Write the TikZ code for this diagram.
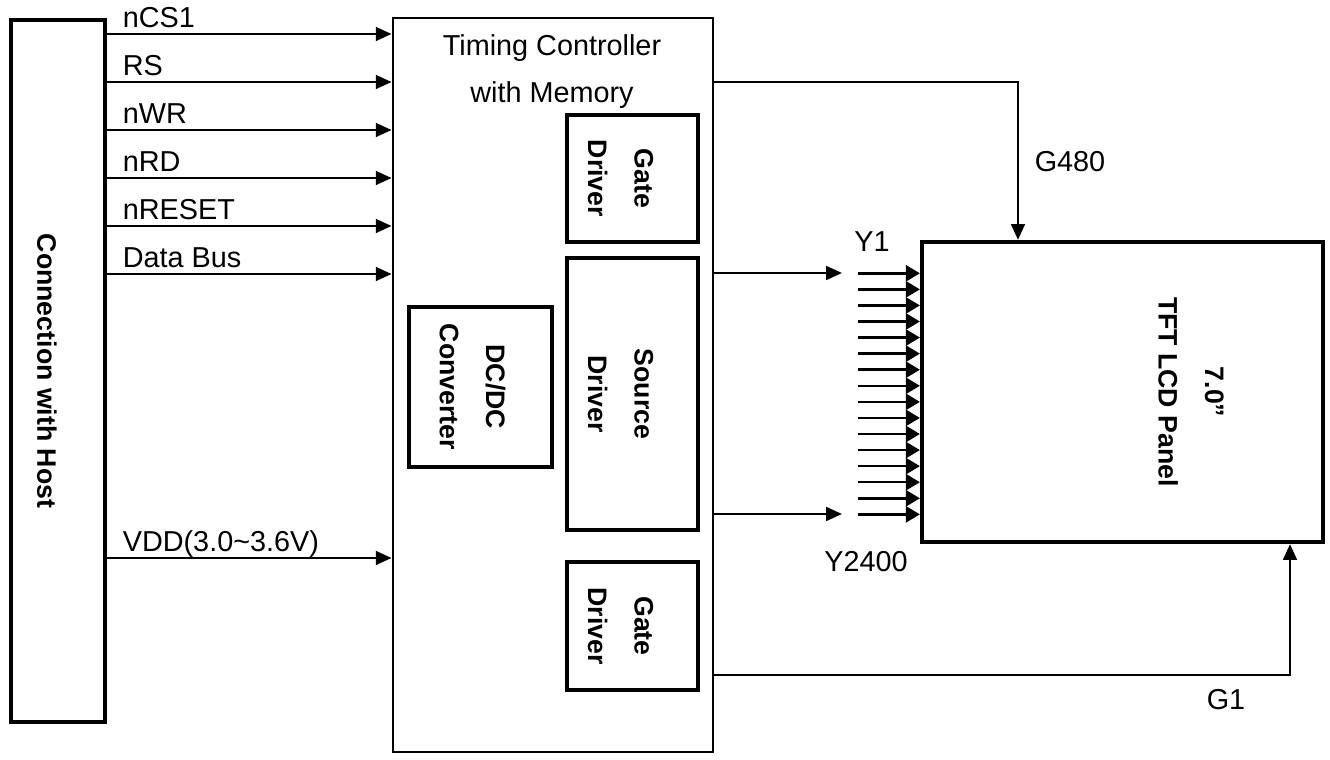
\documentclass[tikz,border=0pt]{standalone}
\definecolor{DInk}{HTML}{000000}
\usepackage{fontspec}
\setmainfont{Liberation Sans}
\usepackage{tikz}
\usetikzlibrary{arrows.meta,positioning,calc}

\begin{document}
\begin{tikzpicture}[
    blk/.style={draw=DInk,line width=1.2pt,minimum width=#1},
    tblk/.style={draw=DInk,line width=0.8pt},
    sig/.style={DInk,line width=0.7pt,-{Triangle[length=4.5pt,width=3.9pt]}},
    fan/.style={DInk,line width=0.7pt,-{Triangle[length=4pt,width=4.6pt]}},
    lbl/.style={font=\fontsize{8.2}{13.3}\selectfont,inner sep=0pt},
    blbl/.style={font=\fontsize{7.6}{13.2}\selectfont\bfseries,inner sep=0pt,
                 rotate=-90,align=center}]
    \useasboundingbox (0,0) rectangle (13.3,-7.6);
    % host side
    \node[blk=0.94cm,minimum height=7.02cm] (host) at (0.58,-3.71) {};
    \node[blbl] (hostlbl) at (0.47,-3.71) {Connection with Host};
    % timing controller and its blocks
    \node[tblk,minimum width=3.20cm,minimum height=7.34cm] (tcon) at (5.53,-3.85) {};
    \node[lbl,align=center] (tconlbl) at (5.52,-0.715) {Timing Controller\\with Memory};
    \node[blk=1.31cm,minimum height=1.27cm] (gtop) at (6.325,-1.785) {};
    \node[blbl] at ([xshift=-0.12cm]gtop.center) {Gate\\Driver};
    \node[blk=1.31cm,minimum height=2.72cm] (src) at (6.325,-3.94) {};
    \node[blbl] at ([xshift=-0.12cm]src.center) {Source\\Driver};
    \node[blk=1.43cm,minimum height=1.60cm] (dcdc) at (4.805,-3.87) {};
    \node[blbl] at ([xshift=-0.08cm]dcdc.center) {DC/DC\\Converter};
    \node[blk=1.31cm,minimum height=1.28cm] (gbot) at (6.325,-6.26) {};
    \node[blbl] at ([xshift=-0.12cm]gbot.center) {Gate\\Driver};
    % panel
    \node[blk=4.01cm,minimum height=3.00cm] (panel) at (11.225,-3.92) {};
    \node[blbl] (panellbl) at (11.91,-3.92) {7.0”\\TFT LCD Panel};
    % host signals
    \foreach \y/\txt in {0.34/nCS1,0.82/RS,1.30/nWR,1.78/nRD,2.26/nRESET,2.74/Data Bus,5.58/VDD(3.0\textasciitilde3.6V)}{
      \coordinate (s) at (0,-\y);
      \draw[sig] (host.east |- s) -- (tcon.west |- s);
      \node[lbl,anchor=base west] at ($(host.east |- s)+(0.15,0.065)$) {\txt};
    }
    % outputs
    \coordinate (g480) at (10.18,-0.82);
    \draw[sig] (tcon.east |- g480) -| (panel.north -| g480);
    \node[lbl] (g480lbl) at (10.70,-1.62) {G480};
    \coordinate (y1) at (8.42,-2.73);
    \draw[sig] (tcon.east |- y1) -- (y1);
    \node[lbl] (y1lbl) at (8.72,-2.42) {Y1};
    \coordinate (yn) at (8.42,-5.14);
    \draw[sig] (tcon.east |- yn) -- (yn);
    \node[lbl] (ynlbl) at (8.66,-5.62) {Y2400};
    \coordinate (g1) at (12.90,-6.75);
    \draw[sig] (tcon.east |- g1) -| (panel.south -| g1);
    \node[lbl] (g1lbl) at (12.26,-7.00) {G1};
    % source lines into panel
    \foreach \i in {0,...,15}{
      \coordinate (f) at (8.58,{-2.733-0.1607*\i});
      \draw[fan] (f) -- (panel.west |- f);
    }
\end{tikzpicture}
\end{document}
